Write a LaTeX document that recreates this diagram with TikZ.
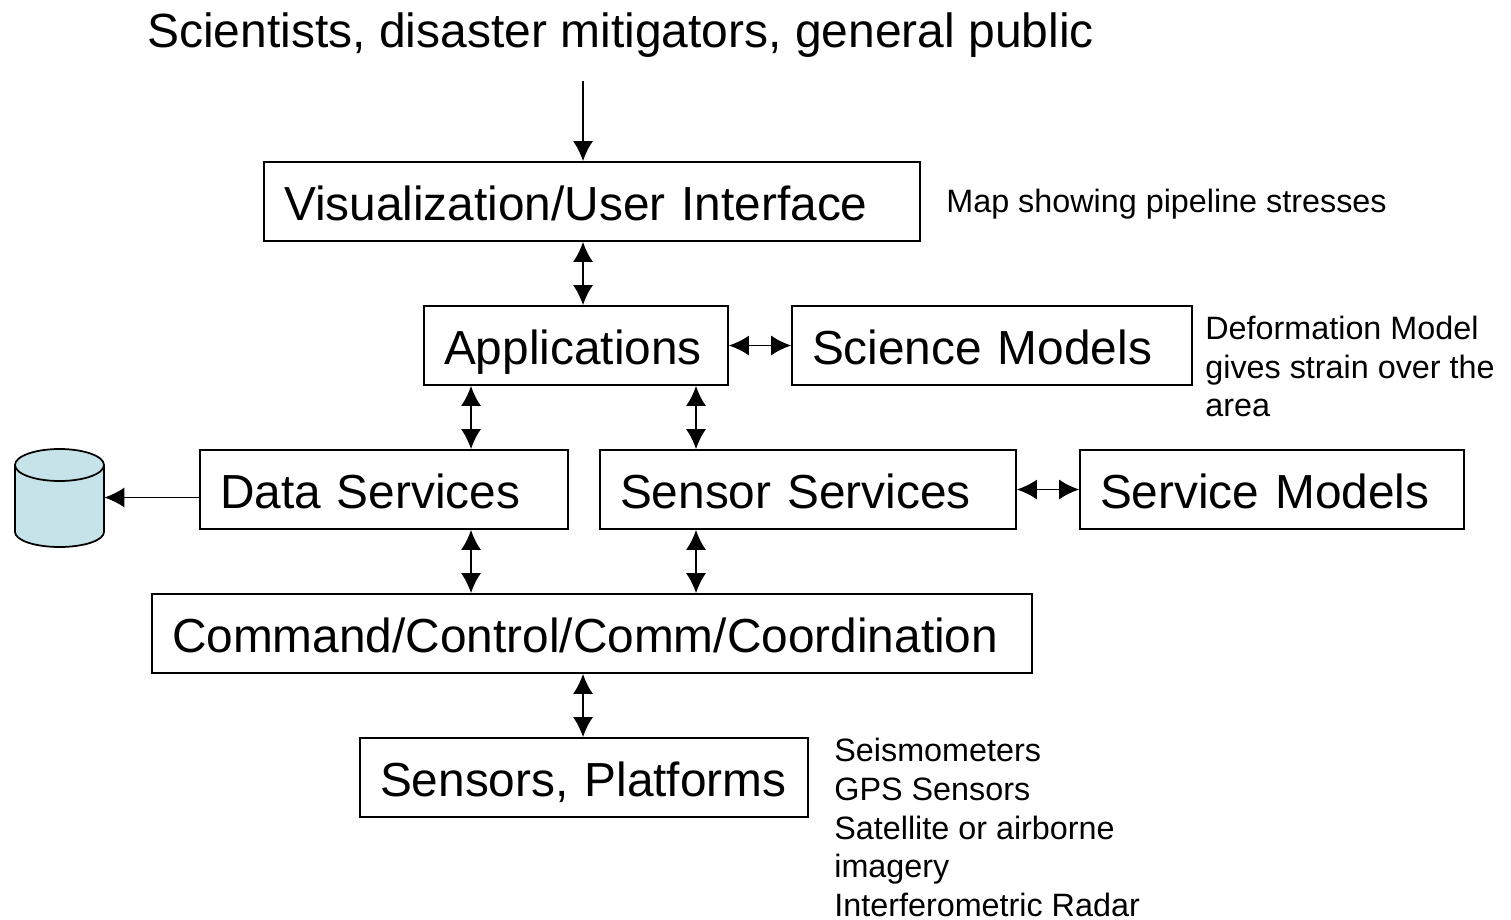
\documentclass[tikz,border=0pt]{standalone}
\usepackage{fontspec}
\setmainfont{Liberation Sans}
\usetikzlibrary{arrows.meta}
\definecolor{Cyl}{HTML}{C5E3E8}
\tikzstyle{Box} = [draw=black,
                     rectangle,
                     line width=1pt,
                     align=left,
                     inner xsep=0.4cm,
                     inner ysep=0pt,
                     minimum height=1.58cm,
                     text height=0.84cm,
                     text depth=0.1cm,
                     font=\fontsize{27.2}{30}\selectfont]
\tikzstyle{Note} = [align=left,
                     inner sep=0pt,
                     font=\fontsize{18.4}{22}\selectfont]
\tikzstyle{Link} = [{Latex[length=0.4cm,width=0.4cm]}-{Latex[length=0.4cm,width=0.4cm]}, line width=1pt]
\tikzstyle{OneWay} = [-{Latex[length=0.4cm,width=0.4cm]}, line width=1pt]

\begin{document}
\begin{tikzpicture}
	\useasboundingbox (0,0) rectangle (30.22,-18.38);

	\node(users) at (2.94, -0.7) [anchor=west, inner sep=0pt, font=\fontsize{27.3}{30}\selectfont]{Scientists, disaster mitigators, general public};
	\coordinate (usersEnd) at (11.66, -1.62);

	% Boxes
	\node(vis) at (11.84, -4.03) [Box, text width=12.32cm]{Visualization/User Interface};
	\node(apps) at (11.52, -6.91) [Box, text width=5.28cm]{Applications};
	\node(science) at (19.84, -6.91) [Box, text width=7.2cm]{Science Models};
	\node(data) at (7.68, -9.79) [Box, text width=6.56cm]{Data Services};
	\node(sensorserv) at (16.16, -9.79) [Box, text width=7.52cm]{Sensor Services};
	\node(servicemod) at (25.44, -9.79) [Box, text width=6.88cm]{Service Models};
	\node(command) at (11.84, -12.67) [Box, text width=16.8cm]{Command/Control/Comm/Coordination};
	\node(sensors) at (11.68, -15.55) [Box, text width=8.16cm]{Sensors, Platforms};

	% Data store
	\node(store) at (1.19, -9.95) [minimum width=1.78cm, minimum height=1.94cm, inner sep=0pt]{};
	\draw [line width=1pt, fill=Cyl] (0.3, -9.3) -- (0.3, -10.64) arc [start angle=180, end angle=360, x radius=0.89, y radius=0.3] -- (2.08, -9.3) arc [start angle=0, end angle=180, x radius=0.89, y radius=0.32] -- cycle;
	\draw [line width=1pt] (0.3, -9.3) arc [start angle=180, end angle=360, x radius=0.89, y radius=0.32];

	% Notes
	\node(mapnote) at (18.92, -4.08) [Note, anchor=west]{Map showing pipeline stresses};
	\node(modelnote) at (24.1, -7.33) [Note, anchor=west]{Deformation Model\\gives strain over the\\area};
	\node(sensornote) at (16.68, -16.55) [Note, anchor=west]{Seismometers\\GPS Sensors\\Satellite or airborne\\imagery\\Interferometric Radar};

	% Lines
	\draw [OneWay] (usersEnd) -- (vis.north -| usersEnd);
	\draw [Link] (vis.south -| usersEnd) -- (apps.north -| usersEnd);
	\draw [Link] (apps) -- (science);
	\draw [Link] ([xshift=-2.1cm]apps.south) -- ([xshift=1.74cm]data.north);
	\draw [Link] ([xshift=2.4cm]apps.south) -- ([xshift=-2.24cm]sensorserv.north);
	\draw [Link] (sensorserv) -- (servicemod);
	\draw [OneWay] (store -| data.west) -- (store);
	\draw [Link] ([xshift=1.74cm]data.south) -- ([xshift=-2.42cm]command.north);
	\draw [Link] ([xshift=-2.24cm]sensorserv.south) -- ([xshift=2.08cm]command.north);
	\draw [Link] (command.south -| usersEnd) -- (sensors.north -| usersEnd);

\end{tikzpicture}
\end{document}
